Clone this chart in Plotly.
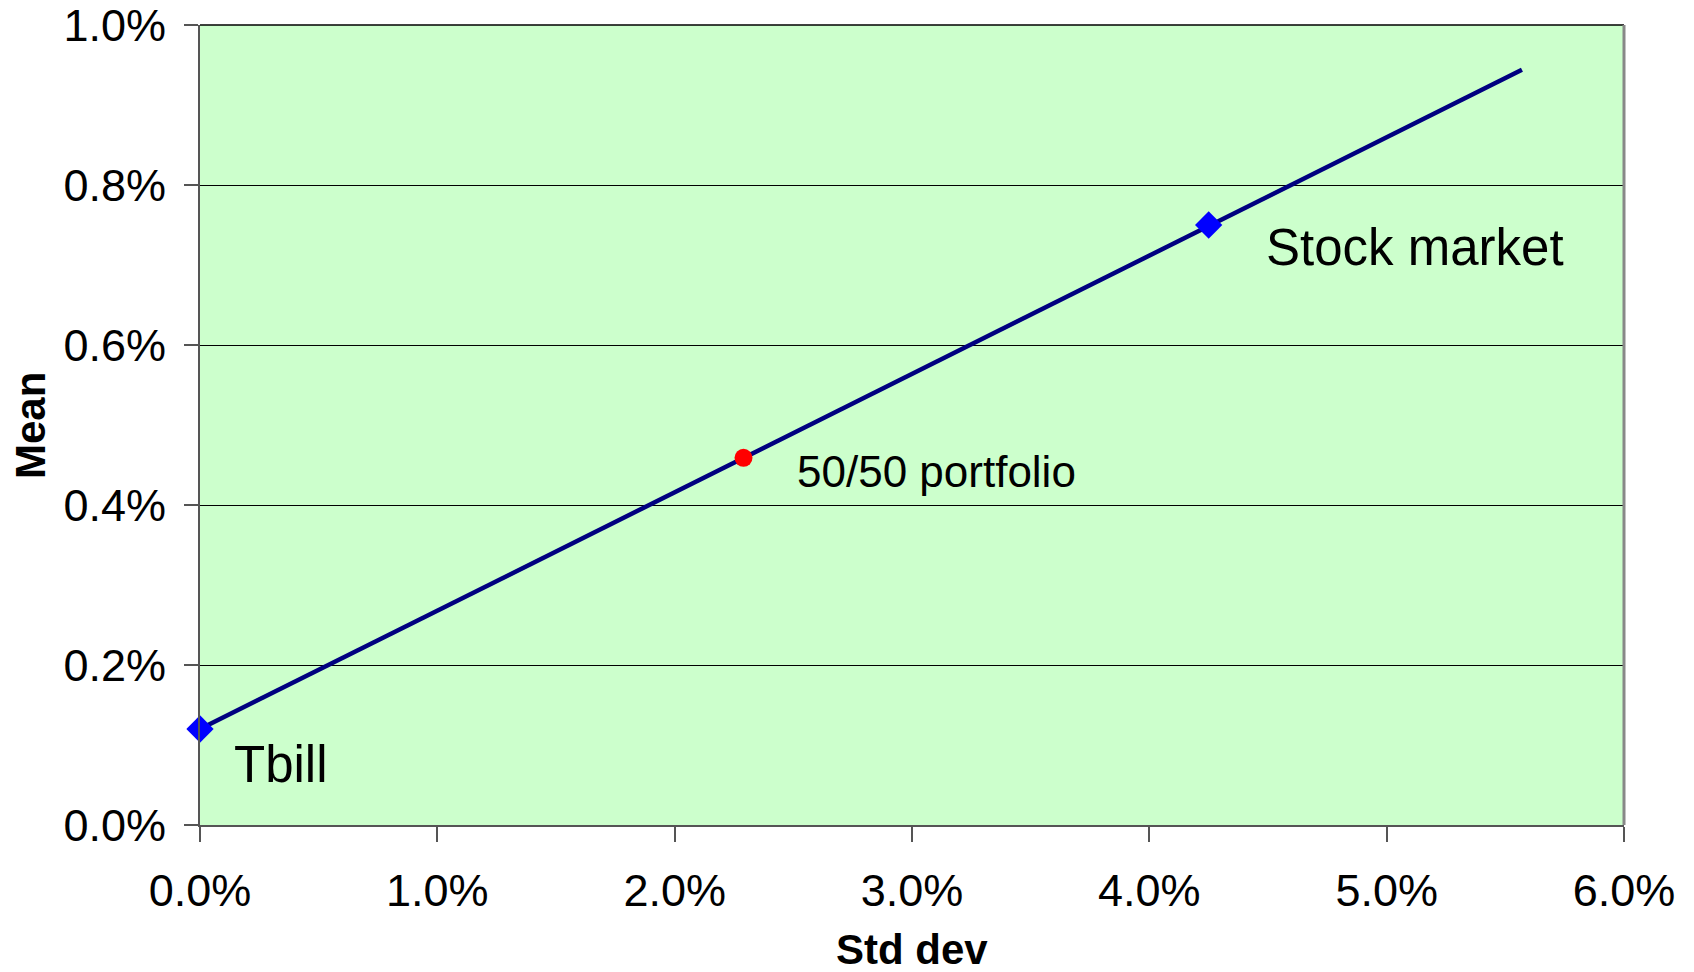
import plotly.graph_objects as go

# Data (percent units)
line_std = [0.0, 2.29, 4.25, 5.57]
line_mean = [0.12, 0.459, 0.75, 0.944]

asset_names = ["Tbill", "Stock market"]
asset_std = [0.0, 4.25]
asset_mean = [0.12, 0.75]

port_name = "50/50 portfolio"
port_std = [2.29]
port_mean = [0.459]

label_x = [0.34, 5.12, 3.104]
label_y = [0.076, 0.722, 0.442]
label_text = ["Tbill", "Stock market", "50/50 portfolio"]
label_size = [51, 51, 44]

x_ticks = [0, 1, 2, 3, 4, 5, 6]
x_ticktext = ["0.0%", "1.0%", "2.0%", "3.0%", "4.0%", "5.0%", "6.0%"]
y_ticks = [0, 0.2, 0.4, 0.6, 0.8, 1.0]
y_ticktext = ["0.0%", "0.2%", "0.4%", "0.6%", "0.8%", "1.0%"]

x_title = "Std dev"
y_title = "Mean"

FONT = "Liberation Sans, Arial, sans-serif"

fig = go.Figure()

fig.add_trace(go.Scatter(
    x=line_std, y=line_mean, mode="lines",
    line=dict(color="#000080", width=4.5), hoverinfo="skip", showlegend=False))

fig.add_trace(go.Scatter(
    x=asset_std, y=asset_mean, mode="markers", text=asset_names,
    marker=dict(symbol="diamond", color="#0000FF", size=21, line=dict(width=0)),
    showlegend=False, cliponaxis=False))

fig.add_trace(go.Scatter(
    x=port_std, y=port_mean, mode="markers", name=port_name,
    marker=dict(symbol="circle", color="#FF0000", size=18, line=dict(width=0)),
    showlegend=False, cliponaxis=False))

for tx, ty, tt, ts in zip(label_x, label_y, label_text, label_size):
    fig.add_annotation(x=tx, y=ty, xref="x", yref="y", text=tt, showarrow=False,
                       xanchor="center", yanchor="middle",
                       font=dict(family=FONT, size=ts, color="black"))

# axis titles
fig.add_annotation(x=0.5, y=-0.156, xref="x domain", yref="y domain", text="<b>" + x_title + "</b>",
                   showarrow=False, xanchor="center", yanchor="middle",
                   font=dict(family=FONT, size=42, color="black"))
fig.add_annotation(x=-0.1194, y=0.5, xref="x domain", yref="y domain", text="<b>" + y_title + "</b>",
                   showarrow=False, xanchor="center", yanchor="middle", textangle=-90,
                   font=dict(family=FONT, size=42, color="black"))

# top border and right border of plot area
fig.add_shape(type="line", xref="x domain", yref="y domain", x0=0, x1=1, y0=1, y1=1,
              line=dict(color="#000000", width=1.5), layer="above")
fig.add_shape(type="line", xref="x domain", yref="y domain", x0=1, x1=1, y0=0, y1=1,
              line=dict(color="#888888", width=3), layer="above")

fig.update_layout(
    width=1686, height=964,
    margin=dict(l=192, r=70, t=17, b=147, autoexpand=False),
    paper_bgcolor="white", plot_bgcolor="#CCFFCC",
    font=dict(family=FONT, color="black"),
    showlegend=False,
)

fig.update_xaxes(
    range=[0, 6], tickvals=x_ticks, ticktext=x_ticktext, automargin=False,
    tickfont=dict(size=45, family=FONT, color="black"),
    showgrid=False, zeroline=False, ticklabeloverflow="allow",
    showline=True, linecolor="#555555", linewidth=2,
    ticks="outside", ticklen=15, tickcolor="#555555", tickwidth=2,
    ticklabelstandoff=10,
)
fig.update_yaxes(
    range=[0, 1.0], tickvals=y_ticks, ticktext=y_ticktext, automargin=False,
    tickfont=dict(size=45, family=FONT, color="black"),
    showgrid=True, gridcolor="#000000", gridwidth=1, zeroline=False,
    ticklabeloverflow="allow",
    showline=True, linecolor="#555555", linewidth=2,
    ticks="outside", ticklen=14, tickcolor="#555555", tickwidth=2,
    ticklabelstandoff=9,
)

fig.write_html("out.html")
